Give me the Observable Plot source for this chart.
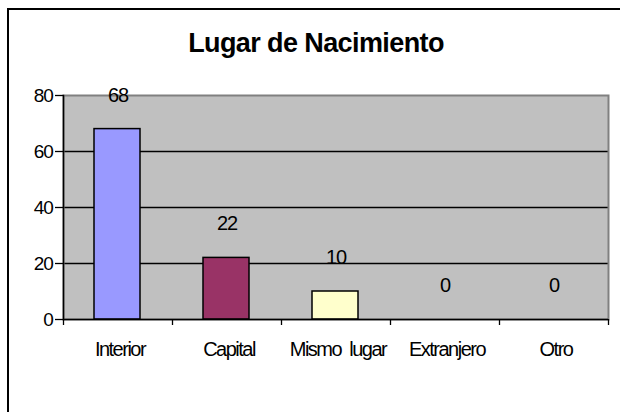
<!DOCTYPE html>
<html><head><meta charset="utf-8">
<script src="https://cdn.jsdelivr.net/npm/d3@7"></script>
<script src="https://cdn.jsdelivr.net/npm/@observablehq/plot@0.6"></script>
<style>
body{margin:0;background:#fff;}
#wrap{position:relative;width:620px;height:412px;overflow:hidden;font-family:"Liberation Sans",Arial,sans-serif;background:#fff;}
#border{position:absolute;left:7px;top:8px;width:700px;height:500px;border-left:2px solid #000;border-top:2px solid #000;}
#title{position:absolute;left:0;width:632px;top:30px;text-align:center;font-size:27px;font-weight:bold;line-height:1;letter-spacing:-0.6px;color:#000;}
#chart{position:absolute;left:0;top:0;}
#chart g[aria-label="x-axis tick label"] text{letter-spacing:-1.5px;white-space:pre;}
#chart g[aria-label="y-axis tick label"] text{letter-spacing:-1.2px;}
#chart g[aria-label="text"] text{letter-spacing:-1.2px;}
</style>
</head><body>
<div id="wrap">
  <div id="border"></div>
  <div id="chart"></div>
  <div id="title">Lugar de Nacimiento</div>
</div>
<script>
const categories = ["Interior", "Capital", "Mismo  lugar", "Extranjero", "Otro"];
const values = [68, 22, 10, 0, 0];
const palette = ["#9999FF", "#993366", "#FFFFCC", "#CCFFFF", "#660066"];
const yTicks = [0, 20, 40, 60, 80];
const gridValues = [20, 40, 60];

const data = categories.map((c, i) => ({cat: c, value: values[i]}));

const W = 620, H = 412, ML = 63, MR = 12, MT = 95, MB = 93;
const step = (W - ML - MR) / categories.length;

const chart = Plot.plot({
  width: W, height: H,
  marginLeft: ML, marginRight: MR, marginTop: MT, marginBottom: MB,
  style: {fontFamily: '"Liberation Sans", Arial, sans-serif', fontSize: "19px", background: "transparent", color: "black", overflow: "visible"},
  x: {domain: categories, padding: 0, label: null},
  y: {domain: [0, 80], label: null},
  color: {domain: categories, range: palette},
  marks: [
    Plot.frame({fill: "#C0C0C0"}),
    Plot.ruleY(gridValues, {stroke: "black", strokeWidth: 1.4}),
    Plot.frame({stroke: "#808080", strokeWidth: 2}),
    Plot.barY(data, {x: "cat", y: "value", fill: "cat", stroke: "black", strokeWidth: 1.5, insetLeft: 31, insetRight: 32}),
    Plot.ruleY([0], {stroke: "black", strokeWidth: 1.5}),
    Plot.frame({anchor: "left", stroke: "black", strokeWidth: 1.5}),
    Plot.axisY({ticks: yTicks, tickSize: 8, tickPadding: 3, fontSize: 19, stroke: "black", strokeWidth: 1.3, strokeOpacity: 1}),
    Plot.axisX({tickSize: 0, tickPadding: 22, fontSize: 20, dx: 2}),
    Plot.ruleX(categories, {x: d => d, dx: -step / 2, y1: 0, y2: 0, insetBottom: -6, stroke: "black", strokeWidth: 1.3}),
    Plot.ruleX([categories[categories.length - 1]], {x: d => d, dx: step / 2, y1: 0, y2: 0, insetBottom: -6, stroke: "black", strokeWidth: 1.3}),
    Plot.text(data, {x: "cat", y: "value", text: d => String(d.value), dy: -34, fontSize: 20, fill: "black"})
  ]
});
document.getElementById("chart").appendChild(chart);
</script>
</body></html>
